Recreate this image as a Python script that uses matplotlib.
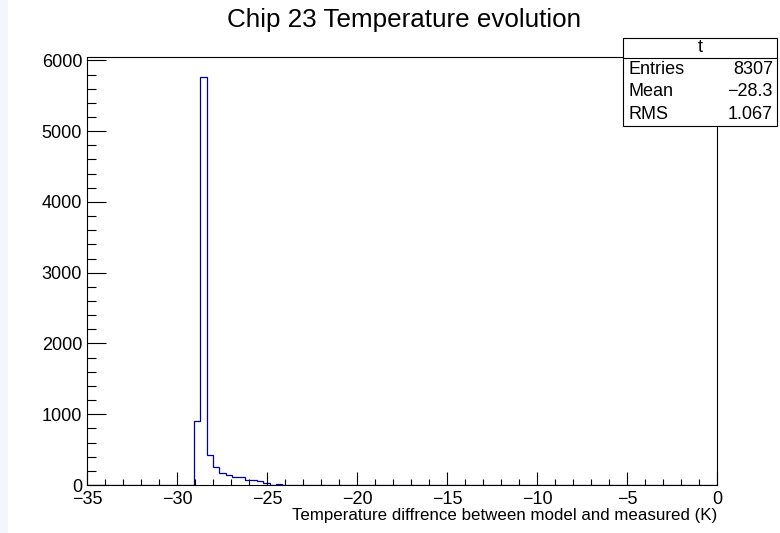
import numpy as np
import matplotlib
matplotlib.use('Agg')
import matplotlib.pyplot as plt
from matplotlib.patches import Rectangle
from matplotlib.ticker import MultipleLocator

plt.rcParams['font.family'] = ['Liberation Sans', 'DejaVu Sans']

# === Data ===
x_min, x_max, n_bins = -35.0, 0.0, 100
first_bin = 17                      # index of first non-empty bin
counts_nonzero = [900, 5760, 428, 249, 170, 146, 108, 108, 71, 71,
                  51, 28, 0, 15]
stats_labels = ['Entries', 'Mean', 'RMS']
stats_values = ['8307', '\u221228.3', '1.067']

counts = np.zeros(n_bins)
counts[first_bin:first_bin + len(counts_nonzero)] = counts_nonzero
edges = np.linspace(x_min, x_max, n_bins + 1)

# === Figure ===
fig = plt.figure(figsize=(7.8, 5.33), dpi=100)
fig.patches.append(Rectangle((0, 0), 8 / 780, 1, transform=fig.transFigure,
                             facecolor='#f3f7fc', edgecolor='none'))
ax = fig.add_axes([87 / 780, 1 - 485 / 533, 630 / 780, 428 / 533])

ax.stairs(counts, edges, color='#000099', linewidth=0.9, baseline=0)

ax.set_xlim(x_min, x_max)
ax.set_ylim(0, counts.max() * 1.05)

ax.xaxis.set_major_locator(MultipleLocator(5))
ax.xaxis.set_minor_locator(MultipleLocator(1))
ax.yaxis.set_major_locator(MultipleLocator(1000))
ax.yaxis.set_minor_locator(MultipleLocator(200))
ax.tick_params(axis='both', which='both', direction='in', width=0.8, labelsize=13)
ax.tick_params(axis='x', which='major', length=9.2, pad=4.5)
ax.tick_params(axis='x', which='minor', length=4.6)
ax.tick_params(axis='y', which='major', length=13.7, pad=3.5)
ax.tick_params(axis='y', which='minor', length=6.8)
for s in ax.spines.values():
    s.set_linewidth(0.8)

ax.set_xlabel('Temperature diffrence between model and measured (K)',
              fontsize=12.2, loc='right', labelpad=0)

fig.text(404 / 780, 1 - 20 / 533, 'Chip 23 Temperature evolution',
         ha='center', va='center', fontsize=18.7)

# === Stats box ===
bx0, bx1 = 623 / 780, 777 / 780
by_top, by_bot, by_line = 1 - 38 / 533, 1 - 126 / 533, 1 - 58 / 533
fig.patches.append(Rectangle((bx0, by_bot), bx1 - bx0, by_top - by_bot,
                             transform=fig.transFigure, facecolor='white',
                             edgecolor='black', linewidth=0.8, zorder=5))
fig.lines.append(plt.Line2D([bx0, bx1], [by_line, by_line],
                            transform=fig.transFigure, color='black',
                            linewidth=0.8, zorder=6))
fig.text((bx0 + bx1) / 2, (by_top + by_line) / 2, 't', ha='center',
         va='center', fontsize=13, zorder=7)
row_h = (by_line - by_bot) / 3
for i, (lab, val) in enumerate(zip(stats_labels, stats_values)):
    yc = by_line - row_h * (i + 0.5)
    fig.text(bx0 + 6 / 780, yc, lab, ha='left', va='center', fontsize=13, zorder=7)
    fig.text(bx1 - 4 / 780, yc, val, ha='right', va='center', fontsize=13, zorder=7)

fig.savefig('out.png', dpi=100)
